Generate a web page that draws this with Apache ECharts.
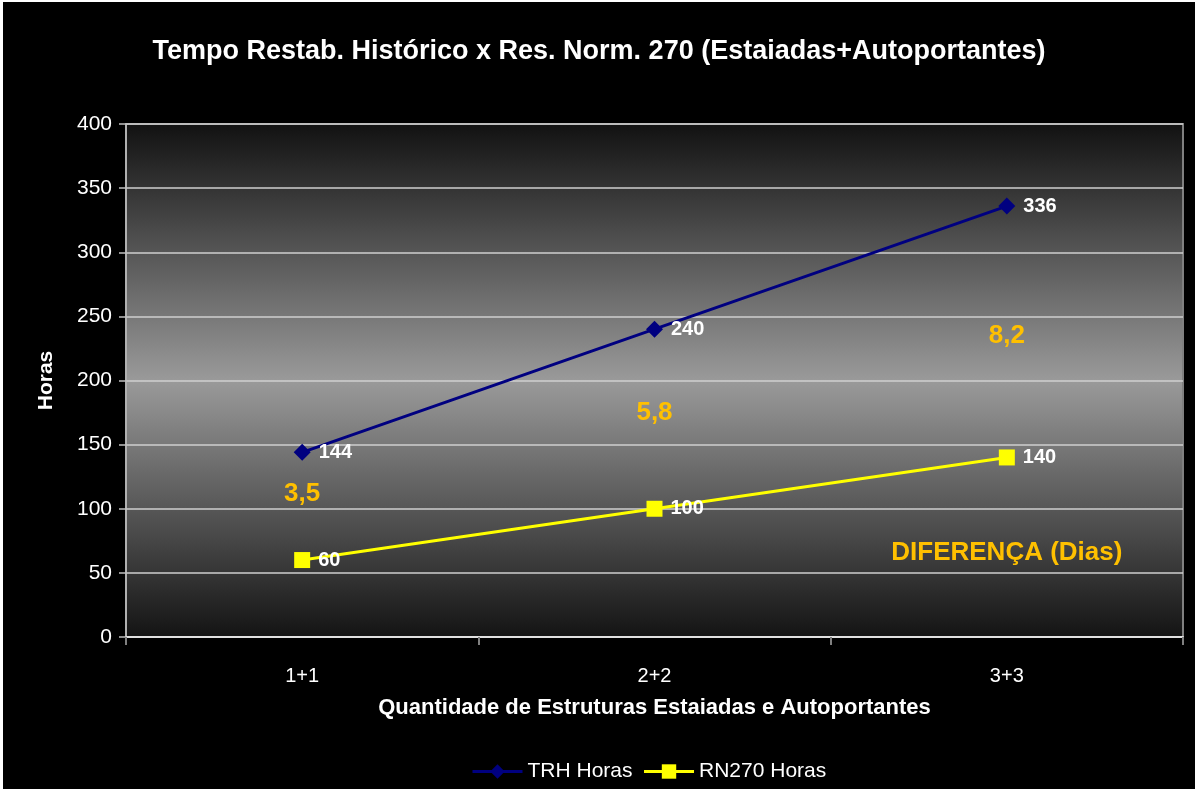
<!DOCTYPE html>
<html>
<head>
<meta charset="utf-8">
<script src="https://cdn.jsdelivr.net/npm/echarts@6/dist/echarts.min.js"></script>
<style>
  html, body { margin: 0; padding: 0; background: #fff; }
  #chart { position: absolute; left: 3px; top: 2px; width: 1192px; height: 787px; background: #000; }
</style>
</head>
<body>
<div id="chart"></div>
<script>
var categories = ['1+1', '2+2', '3+3'];
var trhHoras = [144, 240, 336];
var rn270Horas = [60, 100, 140];
// diferença em dias, escrita entre as duas linhas
var diffLabels = ['3,5', '5,8', '8,2'];
var diffPosY = [112, 175, 235];
var yTicks = [0, 50, 100, 150, 200, 250, 300, 350, 400];

var chart = echarts.init(document.getElementById('chart'));

var fontFam = 'Liberation Sans, Arial, sans-serif';

var diffData = [];
for (var i = 0; i < categories.length; i++) {
  diffData.push({ value: [categories[i], diffPosY[i]], label: { formatter: diffLabels[i] } });
}
diffData.push({ value: ['3+3', 66], label: { formatter: 'DIFERENÇA (Dias)' } });

var option = {
  backgroundColor: '#000',
  textStyle: { fontFamily: fontFam },
  animation: false,
  title: {
    text: 'Tempo Restab. Histórico x Res. Norm. 270 (Estaiadas+Autoportantes)',
    left: 'center',
    top: 31,
    textStyle: { color: '#fff', fontSize: 27, fontWeight: 'bold', fontFamily: fontFam }
  },
  legend: {
    data: ['TRH Horas', 'RN270 Horas'],
    top: 754,
    left: 463,
    itemWidth: 50,
    itemHeight: 18,
    itemGap: 10,
    lineStyle: { width: 3 },
    textStyle: { color: '#fff', fontSize: 21, fontFamily: fontFam }
  },
  grid: {
    left: 123,
    right: 12,
    top: 122,
    bottom: 152,
    show: true,
    borderColor: '#808080',
    borderWidth: 2,
    backgroundColor: new echarts.graphic.LinearGradient(0, 0, 0, 1, [
      { offset: 0, color: '#111111' },
      { offset: 0.5, color: '#9a9a9a' },
      { offset: 1, color: '#131313' }
    ])
  },
  xAxis: {
    type: 'category',
    data: categories,
    boundaryGap: true,
    name: 'Quantidade de Estruturas Estaiadas e Autoportantes',
    nameLocation: 'middle',
    nameGap: 60,
    nameTextStyle: { color: '#fff', fontSize: 22, fontWeight: 'bold' },
    axisLine: { lineStyle: { color: '#e0e0e0', width: 2 } },
    axisTick: { show: true, length: 8, lineStyle: { color: '#808080', width: 2 } },
    axisLabel: { color: '#fff', fontSize: 20, margin: 29 },
    splitLine: { show: false }
  },
  yAxis: {
    type: 'value',
    min: 0,
    max: 400,
    interval: 50,
    name: 'Horas',
    nameLocation: 'middle',
    nameGap: 69,
    nameTextStyle: { color: '#fff', fontSize: 21, fontWeight: 'bold' },
    axisLine: { show: true, lineStyle: { color: '#c0c0c0', width: 1.5 } },
    axisTick: { show: true, length: 7, lineStyle: { color: '#c0c0c0', width: 1.5 } },
    axisLabel: {
      color: '#fff', fontSize: 21, margin: 14,
      formatter: function (v) { return yTicks.indexOf(v) >= 0 ? String(v) : ''; }
    },
    splitLine: { show: true, lineStyle: { color: '#cfcfcf', width: 1.5 } }
  },
  series: [
    {
      name: 'TRH Horas',
      type: 'line',
      data: trhHoras,
      symbol: 'diamond',
      symbolSize: 17,
      lineStyle: { color: '#000080', width: 3 },
      itemStyle: { color: '#000080' },
      label: {
        show: true, position: 'right', distance: 8,
        color: '#fff', fontSize: 20, fontWeight: 'bold'
      },
      z: 3
    },
    {
      name: 'RN270 Horas',
      type: 'line',
      data: rn270Horas,
      symbol: 'rect',
      symbolSize: 16,
      lineStyle: { color: '#ffff00', width: 3 },
      itemStyle: { color: '#ffff00' },
      label: {
        show: true, position: 'right', distance: 8,
        color: '#fff', fontSize: 20, fontWeight: 'bold'
      },
      z: 3
    },
    {
      name: 'diff',
      type: 'scatter',
      data: diffData,
      symbolSize: 0,
      itemStyle: { color: '#ffc000', opacity: 1 },
      label: {
        show: true, position: 'inside',
        color: '#ffc000', fontSize: 26, fontWeight: 'bold'
      },
      silent: true,
      z: 2
    }
  ]
};

chart.setOption(option);
</script>
</body>
</html>
